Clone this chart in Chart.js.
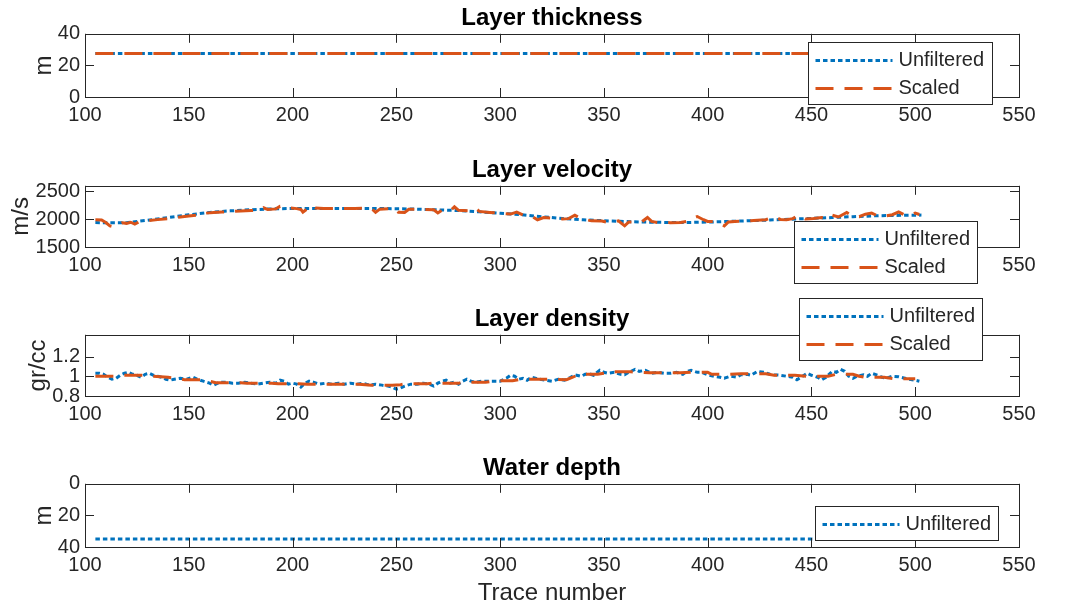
<!DOCTYPE html>
<html>
<head>
<meta charset="utf-8">
<script src="https://cdn.jsdelivr.net/npm/chart.js@4.4.1/dist/chart.umd.min.js"></script>
<style>
  body { margin: 0; background: #fff; }
  #wrap { position: relative; width: 1067px; height: 608px; overflow: hidden; }
  #wrap canvas { position: absolute; left: 0; }
</style>
</head>
<body>
<div id="wrap">
  <canvas id="c1" width="1067" height="150" style="top:0px"></canvas>
  <canvas id="c2" width="1067" height="140" style="top:150px"></canvas>
  <canvas id="c3" width="1067" height="160" style="top:290px"></canvas>
  <canvas id="c4" width="1067" height="158" style="top:450px"></canvas>
</div>
<script>
// ---- data ----
const xTicks = [100, 150, 200, 250, 300, 350, 400, 450, 500, 550];

const thickTrace = [105, 503];
const thickUnf = [27.5, 27.5];
const thickScaled = [27.5, 27.5];
const thickTicks = [0, 20, 40];

const velTrace = [105, 110, 120, 130, 140, 150, 160, 170, 180, 190, 200, 210, 220, 230, 240, 250,
  260, 270, 280, 290, 300, 310, 320, 330, 340, 350, 360, 370, 380, 390, 400, 410, 420, 430, 440,
  450, 460, 470, 480, 490, 500, 503];
const velUnf = [1940, 1935, 1938, 1980, 2030, 2078, 2122, 2150, 2170, 2185, 2192, 2194, 2194, 2193,
  2192, 2188, 2180, 2168, 2155, 2133, 2108, 2080, 2045, 2012, 1990, 1972, 1958, 1948, 1942, 1940,
  1948, 1960, 1972, 1985, 2000, 2014, 2030, 2045, 2060, 2068, 2072, 2073];
const velScTrace = [105, 108, 110, 112, 114, 116, 118, 120, 122, 124, 126, 130, 135, 140, 145, 150,
  154, 156, 158, 162, 166, 170, 175, 180, 184, 186, 188, 192, 194, 196, 198, 202, 204, 205, 207, 209,
  211, 215, 220, 225, 230, 235, 238, 240, 242, 246, 250, 251, 254, 256, 260, 264, 268, 270, 272, 276,
  278, 280, 285, 288, 290, 295, 300, 305, 308, 311, 315, 318, 321, 326, 330, 333, 336, 339, 344, 349,
  352, 357, 360, 362, 365, 368, 371, 373, 376, 382, 387, 390, 392, 395, 398, 400, 404, 408, 410, 413,
  419, 424, 428, 432, 435, 438, 441, 444, 447, 451, 455, 458, 460, 463, 467, 470, 473, 476, 479, 482,
  486, 489, 492, 495, 497, 500, 502];
const velScaled = [1990, 1985, 1940, 1880, 1862, 1900, 1935, 1925, 1945, 1912, 1950, 1972, 1992, 2010,
  2035, 2058, 2072, 2120, 2108, 2118, 2128, 2138, 2148, 2155, 2160, 2205, 2175, 2185, 2232, 2238, 2205,
  2190, 2175, 2125, 2185, 2250, 2200, 2190, 2190, 2192, 2194, 2195, 2192, 2122, 2180, 2188, 2184, 2125,
  2120, 2178, 2178, 2172, 2168, 2112, 2162, 2152, 2222, 2160, 2148, 2200, 2140, 2122, 2108, 2092, 2128,
  2078, 2058, 1988, 2030, 2015, 2005, 2010, 2072, 2010, 1970, 1968, 1940, 1970, 1880, 1950, 1952, 1945,
  2030, 1960, 1940, 1938, 1940, 1960, 2012, 2048, 1990, 1960, 1955, 1880, 1950, 1960, 1970, 1980, 1990,
  2048, 1995, 1990, 2010, 2072, 2005, 2012, 2030, 2010, 2072, 2040, 2120, 2050, 2045, 2090, 2110, 2060,
  2060, 2080, 2132, 2075, 2065, 2110, 2085];
const velTicks = [1500, 2000, 2500];

const denTrace = [105, 107, 109, 111, 113, 115, 117, 119, 121, 123, 125, 127, 129, 131, 133, 135, 137,
  139, 141, 143, 146, 149, 152, 154, 157, 160, 162, 165, 168, 171, 174, 177, 180, 183, 186, 189, 192,
  194, 196, 198, 200, 202, 204, 206, 208, 210, 213, 216, 219, 222, 225, 228, 231, 234, 237, 240, 243,
  246, 248, 250, 252, 254, 257, 260, 263, 266, 268, 270, 272, 274, 276, 278, 280, 282, 284, 286, 288,
  291, 294, 297, 300, 303, 305, 307, 309, 311, 313, 315, 317, 319, 322, 325, 328, 331, 334, 336, 339,
  341, 343, 345, 348, 350, 352, 355, 358, 360, 362, 365, 367, 370, 373, 376, 379, 382, 385, 388, 390,
  392, 395, 397, 400, 403, 406, 408, 411, 414, 416, 419, 421, 424, 427, 430, 432, 435, 438, 441, 443,
  445, 448, 450, 453, 455, 457, 460, 462, 464, 466, 468, 470, 472, 475, 477, 479, 482, 484, 486, 489,
  492, 495, 497, 500, 502];
const denUnf = [1.03, 1.03, 1.02, 0.99, 0.97, 0.98, 1.01, 1.03, 1.04, 1.02, 1.01, 0.99, 1.02, 1.03, 1.01,
  1.00, 0.99, 0.97, 0.96, 0.97, 0.98, 0.97, 0.99, 0.97, 0.95, 0.93, 0.91, 0.94, 0.94, 0.93, 0.93, 0.94,
  0.93, 0.92, 0.93, 0.94, 0.93, 0.96, 0.95, 0.92, 0.93, 0.92, 0.89, 0.93, 0.95, 0.94, 0.92, 0.93, 0.92,
  0.93, 0.92, 0.93, 0.92, 0.93, 0.91, 0.92, 0.91, 0.90, 0.89, 0.87, 0.88, 0.90, 0.92, 0.92, 0.93, 0.92,
  0.90, 0.93, 0.95, 0.96, 0.93, 0.94, 0.92, 0.95, 0.97, 0.95, 0.94, 0.95, 0.95, 0.95, 0.95, 0.98, 1.01,
  1.00, 0.97, 0.98, 0.96, 0.99, 0.98, 0.97, 0.96, 0.95, 0.97, 0.96, 0.99, 1.015, 1.00, 1.02, 1.025, 1.01,
  1.06, 1.04, 1.03, 1.04, 1.02, 1.015, 1.04, 1.07, 1.05, 1.06, 1.03, 1.04, 1.03, 1.03, 1.04, 1.02, 1.05,
  1.06, 1.04, 1.04, 1.015, 1.00, 0.99, 0.98, 1.00, 0.99, 1.015, 1.02, 1.01, 1.05, 1.04, 1.02, 1.015,
  1.01, 1.00, 0.99, 0.965, 0.99, 1.03, 1.01, 0.99, 0.965, 0.99, 1.05, 1.04, 1.07, 1.05, 1.00, 0.98, 1.00,
  1.015, 1.00, 1.03, 1.01, 0.99, 0.98, 1.00, 0.995, 0.98, 0.97, 0.96, 0.95];
const denScTrace = [105, 112, 115, 118, 128, 132, 140, 145, 148, 157, 160, 163, 175, 178, 190, 193, 203,
  207, 232, 238, 248, 252, 255, 265, 268, 280, 283, 293, 298, 306, 310, 320, 332, 335, 338, 347, 350,
  353, 363, 368, 372, 387, 392, 400, 402, 410, 416, 428, 432, 442, 448, 458, 462, 470, 473, 476, 485,
  490, 500];
const denScaled = [1.0, 1.0, 1.0, 1.01, 1.01, 1.0, 0.99, 0.975, 0.965, 0.965, 0.95, 0.935, 0.935, 0.93,
  0.93, 0.925, 0.925, 0.92, 0.92, 0.91, 0.91, 0.915, 0.925, 0.925, 0.93, 0.93, 0.94, 0.94, 0.955, 0.955,
  0.97, 0.97, 0.965, 0.99, 1.02, 1.02, 1.03, 1.045, 1.045, 1.04, 1.035, 1.035, 1.04, 1.04, 1.02, 1.02,
  1.025, 1.025, 1.01, 1.01, 1.0, 1.0, 1.02, 1.02, 1.0, 0.99, 0.99, 0.975, 0.975];
const denTicks = [0.8, 1, 1.2];

const depthTrace = [105, 503];
const depthUnf = [35, 35];
const depthTicks = [0, 20, 40];

// ---- styling ----
const BLUE = '#0072BD';
const ORANGE = '#D95319';
const AXIS = '#262626';
const FONT = '"Liberation Sans", Arial, Helvetica, sans-serif';
Chart.defaults.font.family = FONT;
Chart.defaults.color = AXIS;

const pts = (xs, ys) => xs.map((x, i) => ({ x, y: ys[i] }));

const unfiltered = (xs, ys) => ({
  label: 'Unfiltered', data: pts(xs, ys), borderColor: BLUE, borderWidth: 3,
  borderDash: [4.5, 3], pointRadius: 0, tension: 0, order: 1,
});
const scaled = (xs, ys) => ({
  label: 'Scaled', data: pts(xs, ys), borderColor: ORANGE, borderWidth: 3,
  borderDash: [18, 11], pointRadius: 0, tension: 0, order: 0,
});

// MATLAB-like box, inward ticks on all sides, and a boxed legend
const matlabAxes = {
  id: 'matlabAxes',
  afterDatasetsDraw(chart) {
    const { ctx, chartArea: a, scales } = chart;
    const tl = 9;
    ctx.save();
    ctx.strokeStyle = AXIS;
    ctx.lineWidth = 1;
    ctx.setLineDash([]);
    ctx.beginPath();
    scales.x.ticks.forEach((t) => {
      const px = Math.round(scales.x.getPixelForValue(t.value)) + 0.5;
      ctx.moveTo(px, a.bottom); ctx.lineTo(px, a.bottom - tl);
      ctx.moveTo(px, a.top); ctx.lineTo(px, a.top + tl);
    });
    scales.y.ticks.forEach((t) => {
      const py = Math.round(scales.y.getPixelForValue(t.value)) + 0.5;
      ctx.moveTo(a.left, py); ctx.lineTo(a.left + tl, py);
      ctx.moveTo(a.right, py); ctx.lineTo(a.right - tl, py);
    });
    ctx.stroke();
    ctx.strokeRect(Math.round(a.left) + 0.5, Math.round(a.top) + 0.5,
      Math.round(a.right - a.left), Math.round(a.bottom - a.top));
    ctx.restore();
  },
  afterDraw(chart, args, opts) {
    const lg = opts.legend;
    if (!lg) return;
    const { ctx, chartArea: a } = chart;
    const x0 = Math.round(a.left + lg.dx) + 0.5;
    const y0 = Math.round(a.top + lg.dy) + 0.5;
    const items = chart.data.datasets;
    const h = items.length > 1 ? 62 : 34;
    ctx.save();
    ctx.fillStyle = '#fff';
    ctx.fillRect(x0, y0, lg.w, h);
    ctx.strokeStyle = AXIS;
    ctx.lineWidth = 1;
    ctx.strokeRect(x0, y0, lg.w, h);
    items.forEach((ds, i) => {
      const cy = y0 + h / 2 + 1 + (i - (items.length - 1) / 2) * 28;
      ctx.strokeStyle = ds.borderColor;
      ctx.lineWidth = ds.borderWidth;
      ctx.setLineDash(ds.borderDash);
      ctx.beginPath();
      ctx.moveTo(x0 + 7, cy);
      ctx.lineTo(x0 + 84, cy);
      ctx.stroke();
      ctx.setLineDash([]);
      ctx.fillStyle = AXIS;
      ctx.font = '20px ' + FONT;
      ctx.textBaseline = 'middle';
      ctx.fillText(ds.label, x0 + 90, cy);
    });
    ctx.restore();
  },
};

const makePanel = (id, cfg) => {
  new Chart(document.getElementById(id), {
    type: 'line',
    data: { datasets: cfg.datasets },
    plugins: [matlabAxes],
    options: {
      responsive: false,
      animation: false,
      devicePixelRatio: 1,
      layout: { padding: { left: cfg.padLeft, right: 48, top: cfg.padTop, bottom: cfg.padBottom } },
      plugins: {
        legend: { display: false },
        tooltip: { enabled: false },
        title: {
          display: true, text: cfg.title, color: '#000', fullSize: false,
          font: { size: 24, weight: 'bold', lineHeight: 1.2 },
          padding: { top: 0, bottom: 1 },
        },
        matlabAxes: { legend: cfg.legend },
      },
      scales: {
        x: {
          type: 'linear', min: 100, max: 550,
          afterBuildTicks: (s) => { s.ticks = xTicks.map((v) => ({ value: v })); },
          afterFit: (s) => { s.height = cfg.xHeight; },
          grid: { display: false, drawTicks: false }, border: { display: false },
          ticks: { font: { size: 20 }, padding: 6, maxRotation: 0, callback: (v) => String(v) },
          title: cfg.xTitle
            ? { display: true, text: cfg.xTitle, font: { size: 24 }, padding: 0 }
            : { display: false },
        },
        y: {
          type: 'linear', min: cfg.yMin, max: cfg.yMax, reverse: !!cfg.reverse,
          afterBuildTicks: (s) => { s.ticks = cfg.yTicks.map((v) => ({ value: v })); },
          afterFit: (s) => { s.width = 85 - cfg.padLeft; },
          grid: { display: false, drawTicks: false }, border: { display: false },
          ticks: { font: { size: 20 }, padding: 5, callback: (v) => String(v) },
          title: { display: true, text: cfg.yTitle, font: { size: 24 }, padding: 0 },
        },
      },
    },
  });
};

makePanel('c1', {
  title: 'Layer thickness', yTitle: 'm', yMin: 0, yMax: 40, yTicks: thickTicks,
  padLeft: 30, padTop: 4, padBottom: 23, xHeight: 30,
  legend: { dx: 723, dy: 8, w: 184 },
  datasets: [unfiltered(thickTrace, thickUnf), scaled(thickTrace, thickScaled)],
});
makePanel('c2', {
  title: 'Layer velocity', yTitle: 'm/s', yMin: 1500, yMax: 2600, yTicks: velTicks,
  padLeft: 7, padTop: 6, padBottom: 13, xHeight: 30,
  legend: { dx: 709, dy: 35, w: 183 },
  datasets: [unfiltered(velTrace, velUnf), scaled(velScTrace, velScaled)],
});
makePanel('c3', {
  title: 'Layer density', yTitle: 'gr/cc', yMin: 0.8, yMax: 1.42, yTicks: denTicks,
  padLeft: 24, padTop: 15, padBottom: 24, xHeight: 30,
  legend: { dx: 714, dy: -37, w: 183 },
  datasets: [unfiltered(denTrace, denUnf), scaled(denScTrace, denScaled)],
});
makePanel('c4', {
  title: 'Water depth', yTitle: 'm', yMin: 0, yMax: 40, yTicks: depthTicks, reverse: true,
  padLeft: 30, padTop: 4, padBottom: 0, xHeight: 61, xTitle: 'Trace number',
  legend: { dx: 730, dy: 22, w: 183 },
  datasets: [unfiltered(depthTrace, depthUnf)],
});
</script>
</body>
</html>
